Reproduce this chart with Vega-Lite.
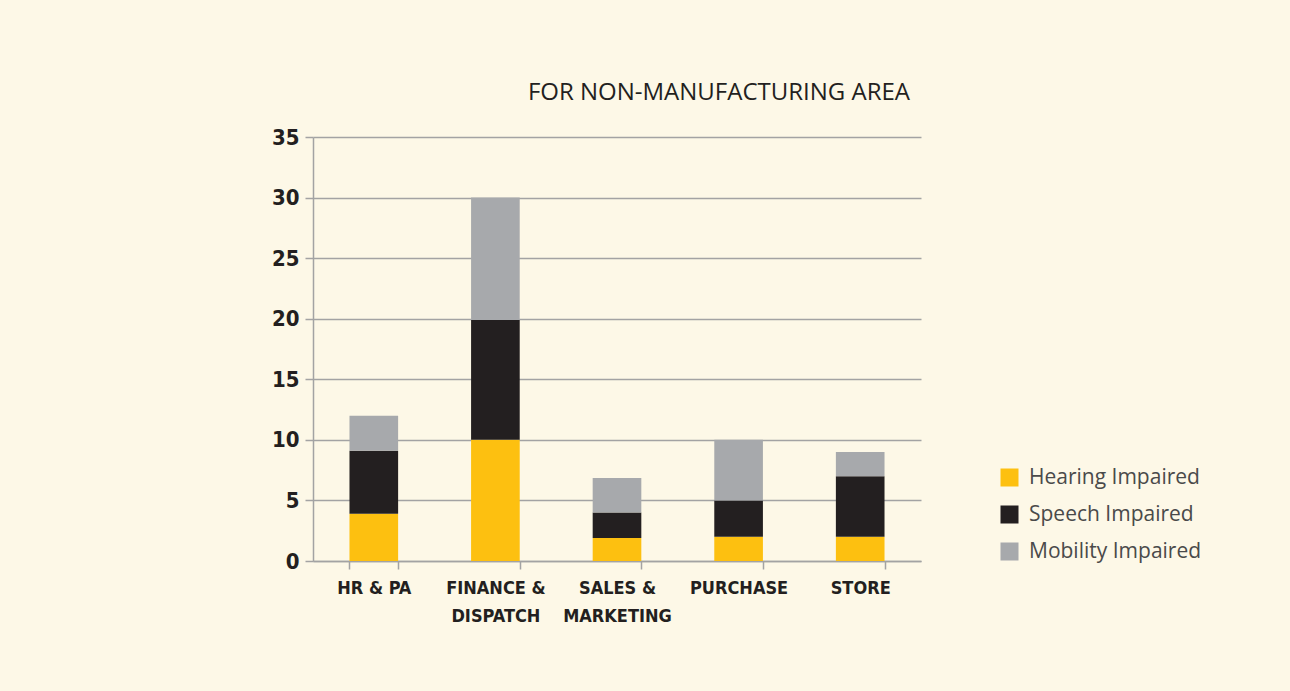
{
  "$schema": "https://vega.github.io/schema/vega-lite/v6.json",
  "width": 608,
  "height": 424,
  "autosize": {"type": "none"},
  "padding": {"left": 313, "top": 137, "right": 369, "bottom": 130},
  "background": "#fdf8e7",
  "title": {
    "text": "FOR NON-MANUFACTURING AREA",
    "anchor": "end",
    "frame": "group",
    "dx": -11,
    "offset": 21,
    "font": "Open Sans",
    "fontSize": 24,
    "fontWeight": "normal",
    "color": "#231f20"
  },
  "data": {
    "values": [
      {"dept": "HR & PA", "type": "Hearing Impaired", "rank": 1, "count": 3.9},
      {"dept": "HR & PA", "type": "Speech Impaired", "rank": 2, "count": 5.2},
      {"dept": "HR & PA", "type": "Mobility Impaired", "rank": 3, "count": 2.9},
      {"dept": "FINANCE & DISPATCH", "type": "Hearing Impaired", "rank": 1, "count": 10},
      {"dept": "FINANCE & DISPATCH", "type": "Speech Impaired", "rank": 2, "count": 9.9},
      {"dept": "FINANCE & DISPATCH", "type": "Mobility Impaired", "rank": 3, "count": 10.1},
      {"dept": "SALES & MARKETING", "type": "Hearing Impaired", "rank": 1, "count": 1.9},
      {"dept": "SALES & MARKETING", "type": "Speech Impaired", "rank": 2, "count": 2.1},
      {"dept": "SALES & MARKETING", "type": "Mobility Impaired", "rank": 3, "count": 2.85},
      {"dept": "PURCHASE", "type": "Hearing Impaired", "rank": 1, "count": 2},
      {"dept": "PURCHASE", "type": "Speech Impaired", "rank": 2, "count": 3},
      {"dept": "PURCHASE", "type": "Mobility Impaired", "rank": 3, "count": 5},
      {"dept": "STORE", "type": "Hearing Impaired", "rank": 1, "count": 2},
      {"dept": "STORE", "type": "Speech Impaired", "rank": 2, "count": 5},
      {"dept": "STORE", "type": "Mobility Impaired", "rank": 3, "count": 2}
    ]
  },
  "mark": {"type": "bar"},
  "encoding": {
    "x": {
      "field": "dept",
      "type": "nominal",
      "sort": null,
      "scale": {"paddingInner": 0.6, "paddingOuter": 0.3},
      "axis": {
        "title": null,
        "labelAngle": 0,
        "labelExpr": "datum.label == 'HR & PA' ? datum.label : split(replace(datum.label, '& ', '&|'), '|')",
        "labelLineHeight": 28,
        "labelPadding": 10,
        "tickBand": "extent",
        "tickSize": 8,
        "tickWidth": 1.5,
        "tickColor": "#a3a3a3",
        "domainColor": "#a3a3a3",
        "domainWidth": 1.5,
        "labelFont": "Liberation Sans Narrow, DejaVu Sans Condensed, sans-serif",
        "labelFontSize": 18,
        "labelFontWeight": "bold",
        "labelColor": "#231f20"
      }
    },
    "y": {
      "field": "count",
      "type": "quantitative",
      "aggregate": "sum",
      "stack": "zero",
      "scale": {"domain": [0, 35], "nice": false},
      "axis": {
        "title": null,
        "values": [0, 5, 10, 15, 20, 25, 30, 35],
        "grid": true,
        "gridColor": "#a3a3a3",
        "gridWidth": 1.5,
        "tickSize": 8,
        "tickWidth": 1.5,
        "tickColor": "#a3a3a3",
        "domainColor": "#a3a3a3",
        "domainWidth": 1.5,
        "labelPadding": 6,
        "labelFont": "Liberation Sans Narrow, DejaVu Sans Condensed, sans-serif",
        "labelFontSize": 22,
        "labelFontWeight": "bold",
        "labelColor": "#231f20"
      }
    },
    "color": {
      "field": "type",
      "type": "nominal",
      "sort": ["Hearing Impaired", "Speech Impaired", "Mobility Impaired"],
      "scale": {
        "domain": ["Hearing Impaired", "Speech Impaired", "Mobility Impaired"],
        "range": ["#fdc010", "#231f20", "#a7a9ac"]
      },
      "legend": {
        "title": null,
        "orient": "none",
        "legendX": 686,
        "legendY": 330,
        "symbolType": "square",
        "symbolSize": 324,
        "symbolStrokeWidth": 0,
        "rowPadding": 15,
        "labelFont": "Open Sans",
        "labelFontSize": 21,
        "labelLimit": 400,
        "labelColor": "#4a4a4a",
        "labelOffset": 9
      }
    },
    "order": {"field": "rank", "type": "quantitative", "sort": "ascending"}
  },
  "config": {
    "view": {"stroke": null}
  }
}
